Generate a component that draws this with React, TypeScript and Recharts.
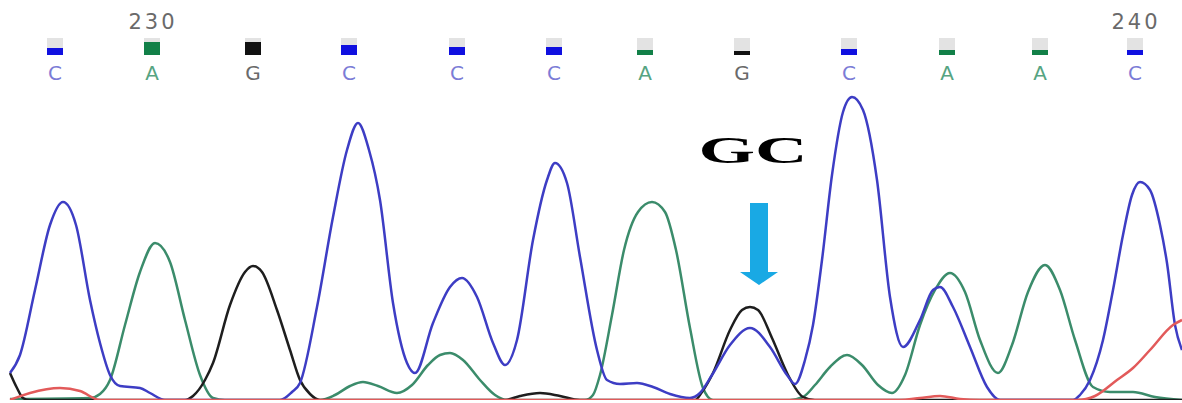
import React from "react";
import { ComposedChart, Line, Scatter, XAxis, YAxis } from "recharts";

// Trace control points: [scan position, signal intensity]
const blueTrace: [number, number][] = [
  [10, 27], [20, 45], [35, 110], [50, 175], [63, 198], [76, 175], [90, 100], [100, 57], [110, 25], [120, 14],
  [140, 12], [150, 7], [165, 0], [280, 0], [292, 8], [300, 17], [317, 93], [333, 183], [347, 250], [358, 277],
  [369, 250], [380, 200], [393, 97], [407, 37], [415, 27], [433, 77], [450, 113], [462, 122], [477, 103], [493, 57],
  [505, 35], [517, 60], [533, 160], [547, 220], [555, 237], [567, 217], [580, 143], [597, 50], [607, 20], [620, 16],
  [637, 17], [653, 13], [670, 6], [690, 2], [700, 7], [712, 25], [730, 55], [750, 72], [770, 53], [787, 25],
  [795, 16], [805, 40], [813, 75], [822, 140], [832, 225], [843, 288], [852, 303], [863, 290], [877, 220], [890, 103],
  [903, 53], [920, 80], [933, 110], [940, 113], [953, 93], [970, 53], [987, 13], [1000, 0], [1073, 0], [1080, 5],
  [1090, 20], [1103, 60], [1113, 110], [1123, 165], [1132, 205], [1140, 218], [1150, 210], [1160, 175], [1167, 137],
  [1175, 75], [1182, 50],
];

const greenTrace: [number, number][] = [
  [10, 1], [90, 2], [100, 6], [110, 20], [125, 75], [140, 128], [155, 157], [170, 138], [185, 80], [200, 25],
  [213, 2], [225, 0], [320, 0], [335, 5], [350, 14], [363, 18], [378, 14], [397, 7], [412, 15], [428, 35],
  [440, 45], [450, 47], [463, 40], [480, 20], [495, 5], [507, 0], [585, 0], [593, 5], [600, 25], [612, 85],
  [624, 150], [638, 188], [652, 198], [665, 188], [676, 150], [690, 72], [703, 12], [713, 0], [790, 0], [803, 3],
  [815, 15], [830, 33], [847, 45], [862, 35], [878, 15], [892, 7], [905, 25], [920, 75], [935, 110], [950, 127],
  [965, 108], [980, 60], [998, 27], [1012, 55], [1028, 108], [1045, 135], [1060, 110], [1075, 60], [1093, 13],
  [1110, 8], [1133, 8], [1155, 3], [1182, 0],
];

const blackTrace: [number, number][] = [
  [10, 27], [17, 12], [23, 2], [30, 0], [185, 0], [193, 4], [205, 20], [213, 37], [230, 95], [245, 128],
  [253, 134], [262, 128], [277, 90], [290, 50], [300, 20], [310, 6], [320, 0], [505, 0], [520, 4], [540, 7],
  [560, 4], [580, 0], [695, 0], [702, 8], [713, 27], [730, 70], [742, 90], [750, 93], [758, 90], [772, 62],
  [788, 25], [803, 3], [815, 0], [1182, 0],
];

const redTrace: [number, number][] = [
  [10, 0], [30, 7], [60, 12], [80, 9], [100, 0], [900, 0], [920, 2], [940, 4], [960, 1], [980, 0],
  [1077, 0], [1095, 4], [1117, 20], [1133, 32], [1150, 50], [1173, 75], [1182, 80],
];

// Base calls
const baseLetters = ["C", "A", "G", "C", "C", "C", "A", "G", "C", "A", "A", "C"];
const basePositions = [55, 152, 253, 349, 457, 554, 645, 742, 849, 947, 1040, 1135];
const baseQuality = [7, 13, 13, 10, 8, 8, 5, 4, 6, 5, 5, 5];
const positionLabels = ["", "230", "", "", "", "", "", "", "", "", "", "240"];

// Annotation
const annotationLabel = "GC";
const annotationPos = 759;
const annotationTip = 115;

const BASE_ROW = 350;

const boxColor: Record<string, string> = { C: "#1010e0", A: "#128048", G: "#111111", T: "#e02020" };
const letterColor: Record<string, string> = { C: "#7c7cd6", A: "#56a482", G: "#6a6a6a", T: "#e06060" };

const toRows = (t: [number, number][]) => t.map(([x, v]) => ({ x, v }));

const baseRows = baseLetters.map((b, i) => ({
  x: basePositions[i],
  y: BASE_ROW,
  base: b,
  q: baseQuality[i],
  num: positionLabels[i],
}));

const annotationRows = [{ x: annotationPos, y: annotationTip, label: annotationLabel }];

const BaseShape = (props: any) => {
  const { cx, cy, payload } = props;
  if (cx == null || cy == null) return null;
  const bottom = cy + 5;
  const q = payload.q;
  return (
    <g>
      <rect x={cx - 8} y={cy - 12} width={16} height={17 - q} fill="#dcdcdc" opacity={0.8} />
      <rect x={cx - 8} y={bottom - q} width={16} height={q} fill={boxColor[payload.base]} />
      <text
        x={cx}
        y={cy + 30}
        textAnchor="middle"
        fontFamily="DejaVu Sans, sans-serif"
        fontSize={20}
        fill={letterColor[payload.base]}
      >
        {payload.base}
      </text>
      {payload.num ? (
        <text
          x={cx + 1}
          y={cy - 21}
          textAnchor="middle"
          fontFamily="DejaVu Sans, sans-serif"
          fontSize={21}
          letterSpacing={3}
          fill="#6a6a6a"
        >
          {payload.num}
        </text>
      ) : null}
    </g>
  );
};

const ArrowShape = (props: any) => {
  const { cx, cy, payload } = props;
  if (cx == null || cy == null) return null;
  const shaftTop = cy - 82;
  const headTop = cy - 13;
  const pts = [
    [cx - 9, shaftTop],
    [cx + 9, shaftTop],
    [cx + 9, headTop],
    [cx + 19, headTop],
    [cx, cy],
    [cx - 19, headTop],
    [cx - 9, headTop],
  ]
    .map((p) => p.join(","))
    .join(" ");
  return (
    <g>
      <polygon points={pts} fill="#19a9e4" />
      <text
        x={cx - 6}
        y={cy - 122}
        textAnchor="middle"
        fontFamily="Liberation Serif, serif"
        fontWeight="bold"
        fontSize={38}
        textLength={109}
        lengthAdjust="spacingAndGlyphs"
        fill="#000000"
      >
        {payload.label}
      </text>
    </g>
  );
};

export default function App() {
  return (
    <div style={{ position: "absolute", left: 0, top: 0, width: 1182, height: 403, background: "#ffffff" }}>
      <ComposedChart width={1182} height={403} margin={{ top: 0, right: 0, bottom: 3, left: 0 }}>
        <XAxis type="number" dataKey="x" domain={[0, 1182]} hide allowDataOverflow />
        <YAxis type="number" domain={[0, 400]} hide allowDataOverflow />
        <Line
          data={toRows(greenTrace)}
          dataKey="v"
          type="monotone"
          stroke="#3b8c6b"
          strokeWidth={2.5}
          dot={false}
          activeDot={false}
          isAnimationActive={false}
        />
        <Line
          data={toRows(blackTrace)}
          dataKey="v"
          type="monotone"
          stroke="#1e1e1e"
          strokeWidth={2.5}
          dot={false}
          activeDot={false}
          isAnimationActive={false}
        />
        <Line
          data={toRows(blueTrace)}
          dataKey="v"
          type="monotone"
          stroke="#3d3dc4"
          strokeWidth={2.5}
          dot={false}
          activeDot={false}
          isAnimationActive={false}
        />
        <Line
          data={toRows(redTrace)}
          dataKey="v"
          type="monotone"
          stroke="#e25a5a"
          strokeWidth={2.5}
          dot={false}
          activeDot={false}
          isAnimationActive={false}
        />
        <Scatter data={baseRows} dataKey="y" shape={BaseShape} isAnimationActive={false} />
        <Scatter data={annotationRows} dataKey="y" shape={ArrowShape} isAnimationActive={false} />
      </ComposedChart>
    </div>
  );
}
